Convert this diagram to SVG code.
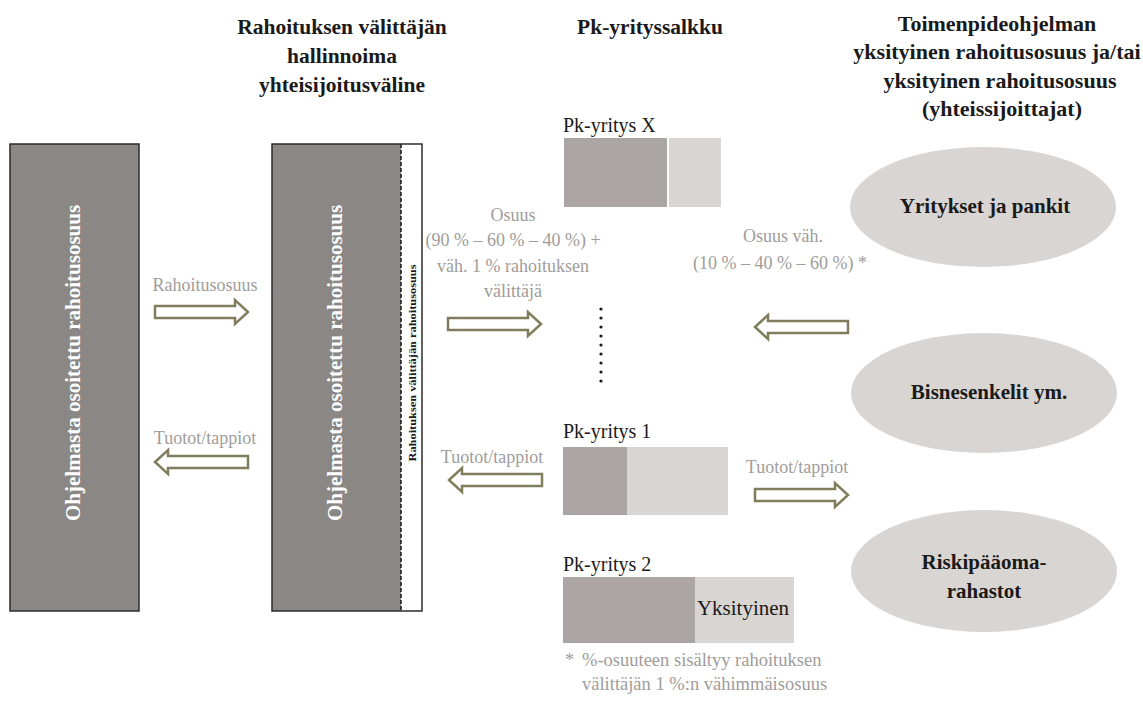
<svg xmlns="http://www.w3.org/2000/svg" width="1143" height="707" viewBox="0 0 1143 707">
<style>
text{font-family:'Liberation Serif','DejaVu Serif',serif}
.h{font-weight:bold;font-size:21.5px;fill:#1a1a1a;text-anchor:middle}
.hr{font-weight:bold;font-size:22px;fill:#1a1a1a;text-anchor:middle}
.lbl{font-size:18px;fill:#a09c9a;text-anchor:middle}
.fn{font-size:18.5px;fill:#a09c9a}
.pk{font-size:20px;fill:#1a1a1a}
.vt{font-weight:bold;font-size:21px;fill:#ffffff;text-anchor:middle}
.el{fill:#d9d5d2}
.et{font-weight:bold;font-size:21px;fill:#1a1a1a;text-anchor:middle}
.arr{fill:#ffffff;stroke:#7f7d5c;stroke-width:2.5;stroke-linejoin:miter}
.dk{fill:#aba6a3}
.lt{fill:#d9d5d2}
</style>
<defs>
<path id="arrow" class="arr" d="M0,-6 H80 V-12 L93,0 L80,12 V6 H0 Z"/>
</defs>
<rect width="1143" height="707" fill="#ffffff"/>

<g id="headers">
<text class="h" x="342" y="34">Rahoituksen välittäjän</text>
<text class="h" x="342" y="63">hallinnoima</text>
<text class="h" x="342" y="92">yhteisijoitusväline</text>
<text class="h" x="650" y="34">Pk-yrityssalkku</text>
<text class="hr" x="997" y="31">Toimenpideohjelman</text>
<text class="hr" x="997" y="59">yksityinen rahoitusosuus ja/tai</text>
<text class="hr" x="1000" y="88">yksityinen rahoitusosuus</text>
<text class="hr" x="1002" y="116">(yhteissijoittajat)</text>
</g>

<g id="program-column">
<rect x="10" y="144" width="129" height="467" fill="#8b8785" stroke="#2b2b2b" stroke-width="1.5"/>
<text class="vt" transform="translate(80,363) rotate(-90)">Ohjelmasta osoitettu rahoitusosuus</text>
</g>

<g id="co-investment-vehicle">
<rect x="272" y="144" width="129" height="467" fill="#8b8785"/>
<line x1="401" y1="144" x2="401" y2="611" stroke="#1a1a1a" stroke-width="1.5" stroke-dasharray="4,2"/>
<rect x="272" y="144" width="150" height="467" fill="none" stroke="#2b2b2b" stroke-width="1.5"/>
<text class="vt" transform="translate(342,363) rotate(-90)">Ohjelmasta osoitettu rahoitusosuus</text>
<text transform="translate(416,363) rotate(-90)" font-weight="bold" font-size="11" fill="#1a1a1a" text-anchor="middle" textLength="197" lengthAdjust="spacingAndGlyphs">Rahoituksen välittäjän rahoitusosuus</text>
</g>

<g id="pk-x">
<text class="pk" x="563" y="132">Pk-yritys X</text>
<rect class="dk" x="564" y="138" width="103" height="69"/>
<rect class="lt" x="669" y="138" width="52" height="69"/>
</g>

<g id="dots" fill="#1a1a1a">
<circle cx="601" cy="309" r="1.6"/><circle cx="601" cy="318" r="1.6"/><circle cx="601" cy="327" r="1.6"/>
<circle cx="601" cy="336" r="1.6"/><circle cx="601" cy="345" r="1.6"/><circle cx="601" cy="354" r="1.6"/>
<circle cx="601" cy="363" r="1.6"/><circle cx="601" cy="372" r="1.6"/><circle cx="601" cy="381" r="1.6"/>
</g>

<g id="pk-1">
<text class="pk" x="563" y="438">Pk-yritys 1</text>
<rect class="dk" x="563" y="447" width="64" height="68"/>
<rect class="lt" x="627" y="447" width="101" height="68"/>
</g>

<g id="pk-2">
<text class="pk" x="563" y="571">Pk-yritys 2</text>
<rect class="dk" x="563" y="577" width="132" height="66"/>
<rect class="lt" x="695" y="577" width="99" height="66"/>
<text class="pk" x="743" y="615" text-anchor="middle" style="font-size:21px">Yksityinen</text>
</g>

<g id="yritykset">
<ellipse class="el" cx="983" cy="207" rx="133" ry="60"/>
<text class="et" x="985" y="213">Yritykset ja pankit</text>
</g>
<g id="bisnesenkelit">
<ellipse class="el" cx="984" cy="393" rx="133" ry="60"/>
<text class="et" x="989" y="399">Bisnesenkelit ym.</text>
</g>
<g id="riskipaaoma">
<ellipse class="el" cx="984" cy="571" rx="133" ry="61"/>
<text class="et" x="984" y="569">Riskipääoma-</text>
<text class="et" x="984" y="598">rahastot</text>
</g>

<g id="connectors">
<text class="lbl" x="205" y="291">Rahoitusosuus</text>
<use href="#arrow" transform="translate(155,312)"/>
<text class="lbl" x="205" y="444">Tuotot/tappiot</text>
<use href="#arrow" transform="translate(248,462) scale(-1,1)"/>

<text class="lbl" x="513" y="221">Osuus</text>
<text class="lbl" x="513" y="246">(90 % – 60 % – 40 %) +</text>
<text class="lbl" x="513" y="272">väh. 1 % rahoituksen</text>
<text class="lbl" x="513" y="297">välittäjä</text>
<use href="#arrow" transform="translate(448,324)"/>

<text class="lbl" x="492" y="463">Tuotot/tappiot</text>
<use href="#arrow" transform="translate(542,480) scale(-1,1)"/>

<text class="lbl" x="783" y="242">Osuus väh.</text>
<text class="lbl" x="780" y="269">(10 % – 40 % – 60 %) *</text>
<use href="#arrow" transform="translate(848,327) scale(-1,1)"/>

<text class="lbl" x="797" y="473">Tuotot/tappiot</text>
<use href="#arrow" transform="translate(755,495)"/>
</g>

<g id="footnote">
<text class="fn" x="565" y="666">*</text>
<text class="fn" x="582" y="666">%-osuuteen sisältyy rahoituksen</text>
<text class="fn" x="582" y="690">välittäjän 1 %:n vähimmäisosuus</text>
</g>
</svg>
